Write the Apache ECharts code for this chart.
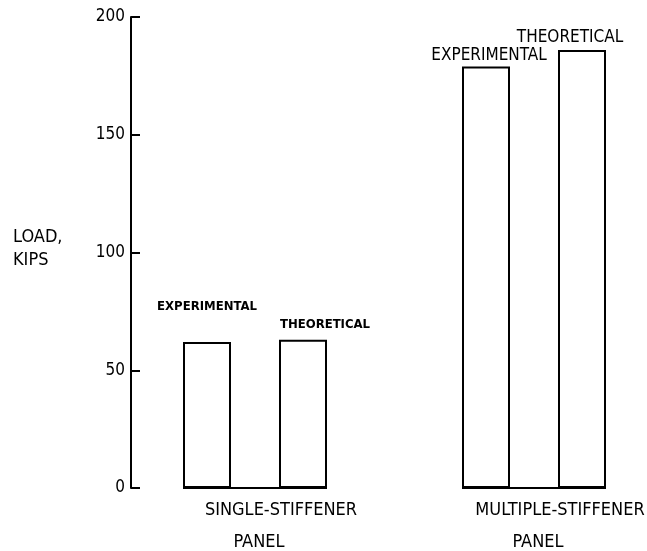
<!DOCTYPE html>
<html>
<head>
<meta charset="utf-8">
<script src="https://cdn.jsdelivr.net/npm/echarts@6/dist/echarts.min.js"></script>
<style>
html,body{margin:0;padding:0;background:#fff;}
#chart{width:647px;height:551px;}
</style>
</head>
<body>
<div id="chart"></div>
<script>
// ---- data ----
var categories = ['SINGLE-STIFFENER', 'MULTIPLE-STIFFENER'];
var categorySub = ['PANEL', 'PANEL'];
var experimental = [62, 179];
var theoretical = [63, 186];
var yTicks = [0, 50, 100, 150, 200];
var seriesNames = ['EXPERIMENTAL', 'THEORETICAL'];

// ---- styling ----
var COND = '"DejaVu Sans Condensed", "Liberation Sans Narrow", sans-serif';
var NARROW = '"Liberation Sans Narrow", "DejaVu Sans Condensed", sans-serif';
var BAR_W = 48;

var expLabelStyle = [
  {fontFamily: COND, fontWeight: 'bold', fontSize: 13, lineHeight: 14, distance: 28, offset: [0, 0]},
  {fontFamily: NARROW, fontWeight: 'normal', fontSize: 17, lineHeight: 17, distance: 2, offset: [3, 0]}
];
var theoLabelStyle = [
  {fontFamily: COND, fontWeight: 'bold', fontSize: 13, lineHeight: 14, distance: 8, offset: [22, 0]},
  {fontFamily: NARROW, fontWeight: 'normal', fontSize: 17, lineHeight: 17, distance: 4, offset: [-12, 0]}
];

function buildData(values, name, styles) {
  return values.map(function (v, i) {
    var s = styles[i];
    return {
      value: v,
      label: {
        show: true,
        position: 'top',
        formatter: name,
        color: '#000',
        fontFamily: s.fontFamily,
        fontWeight: s.fontWeight,
        fontSize: s.fontSize,
        lineHeight: s.lineHeight,
        distance: s.distance,
        offset: s.offset
      }
    };
  });
}

var chart = echarts.init(document.getElementById('chart'), null, {renderer: 'canvas'});

var option = {
  backgroundColor: '#ffffff',
  animation: false,
  grid: {left: 255, top: 17, width: 279, height: 471, containLabel: false, outerBoundsMode: 'none'},
  xAxis: {
    type: 'category',
    data: categories,
    boundaryGap: false,
    axisLine: {show: false},
    axisTick: {show: false},
    splitLine: {show: false},
    axisLabel: {
      interval: 0,
      margin: 6,
      formatter: function (val, idx) {
        return '{a|' + val + '}\n{b|' + categorySub[idx] + '}';
      },
      rich: {
        a: {fontFamily: COND, fontSize: 18, lineHeight: 32, color: '#000', padding: [0, 0, 0, 52]},
        b: {fontFamily: COND, fontSize: 18, lineHeight: 32, color: '#000', padding: [0, 0, 0, 8]}
      }
    }
  },
  yAxis: {
    type: 'value',
    min: yTicks[0],
    max: yTicks[yTicks.length - 1],
    interval: yTicks[1] - yTicks[0],
    offset: 124,
    axisLine: {show: true, lineStyle: {color: '#000', width: 2}},
    axisTick: {show: true, inside: true, length: 9, lineStyle: {color: '#000', width: 2}},
    splitLine: {show: false},
    axisLabel: {
      margin: 6,
      color: '#000',
      fontFamily: COND,
      fontSize: 17
    }
  },
  graphic: [
    {
      type: 'text',
      left: 13,
      top: 226,
      style: {
        text: 'LOAD,\nKIPS',
        fontFamily: COND,
        fontSize: 18,
        lineHeight: 23,
        fill: '#000'
      }
    }
  ],
  series: [
    {
      name: seriesNames[0],
      type: 'bar',
      barWidth: BAR_W,
      barGap: '100%',
      itemStyle: {color: '#ffffff', borderColor: '#000', borderWidth: 2},
      data: buildData(experimental, seriesNames[0], expLabelStyle),
      z: 3
    },
    {
      name: seriesNames[1],
      type: 'bar',
      barWidth: BAR_W,
      barGap: '100%',
      itemStyle: {color: '#ffffff', borderColor: '#000', borderWidth: 2},
      data: buildData(theoretical, seriesNames[1], theoLabelStyle),
      z: 3
    },
    {
      name: 'baseline',
      type: 'custom',
      silent: true,
      z: 4,
      encode: {x: 0, y: 1},
      data: categories.map(function (c, i) { return [i, 0]; }),
      renderItem: function (params, api) {
        var p = api.coord([api.value(0), api.value(1)]);
        var half = 1.5 * BAR_W;
        return {
          type: 'line',
          shape: {x1: p[0] - half, y1: p[1], x2: p[0] + half, y2: p[1]},
          style: {stroke: '#000', lineWidth: 2}
        };
      }
    }
  ]
};

chart.setOption(option);
</script>
</body>
</html>
